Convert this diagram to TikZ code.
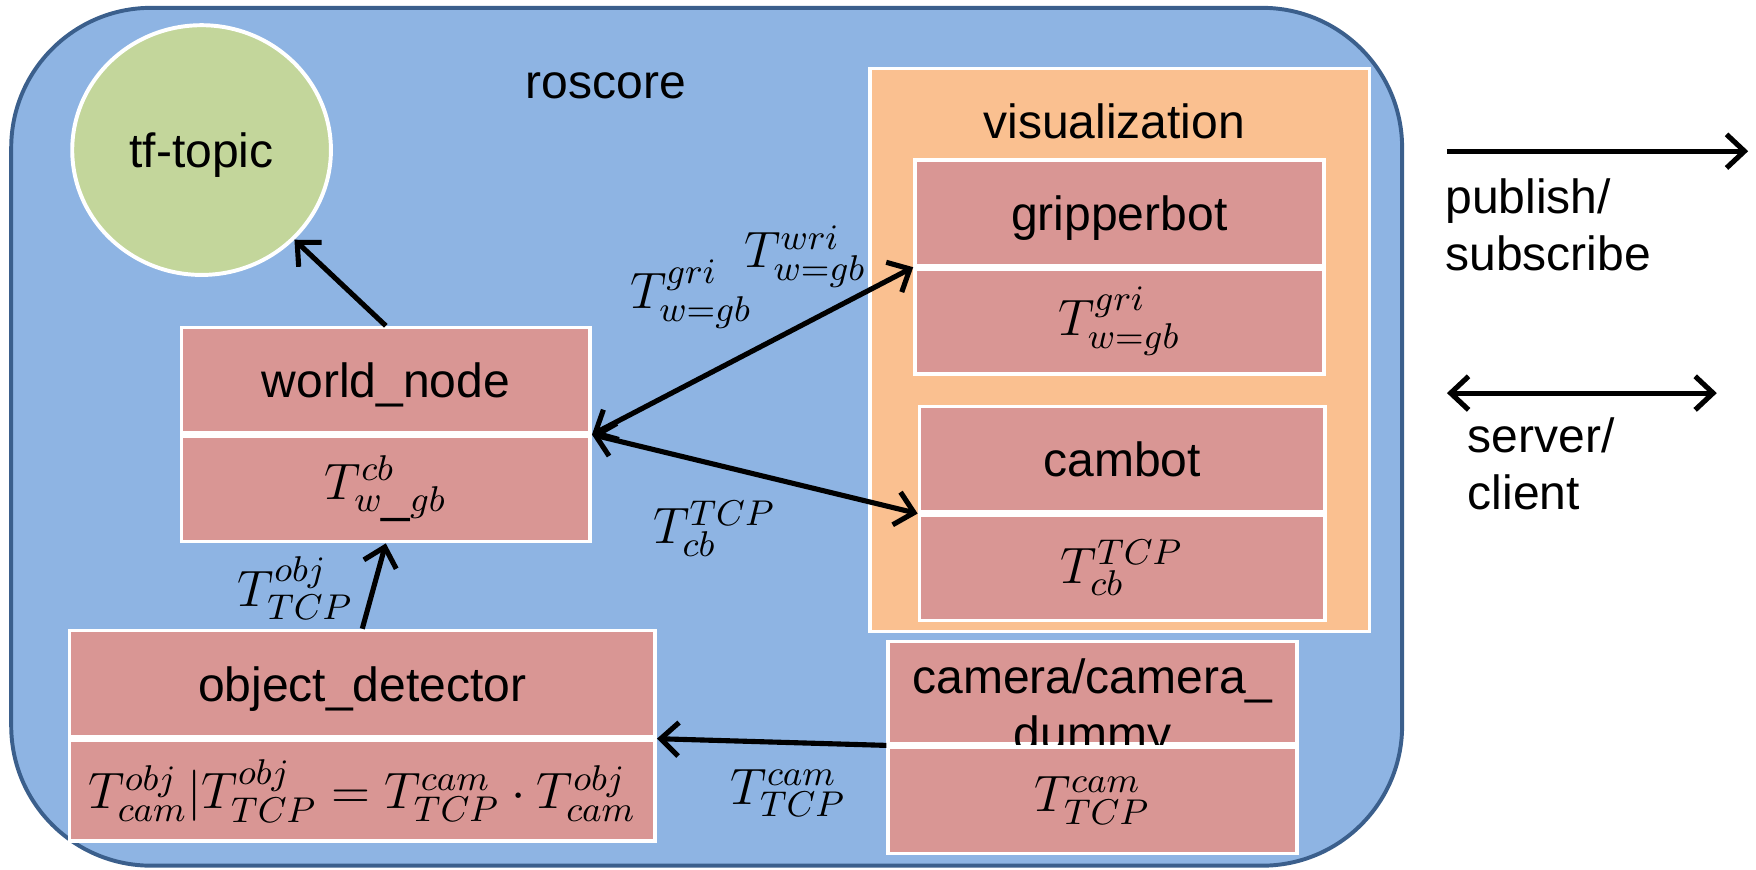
\documentclass[tikz,border=0pt]{standalone}
\usepackage{fix-cm}
\usepackage{fontspec}
\setmainfont{Liberation Sans}
\usetikzlibrary{arrows.meta}
\usetikzlibrary{positioning}
\usetikzlibrary{shapes.geometric}

\definecolor{roscoreblue}{RGB}{142,180,227}
\definecolor{roscoreline}{RGB}{59,95,140}
\definecolor{vizorange}{RGB}{250,192,144}
\definecolor{noderose}{RGB}{217,150,148}
\definecolor{topicgreen}{RGB}{195,214,155}

\begin{document}
\begin{tikzpicture}[
  every node/.style={font=\fontsize{12.2}{14.5}\selectfont},
  rosbox/.style={rectangle,draw=white,line width=0.9pt,fill=noderose,minimum width=3.65cm,minimum height=0.94cm,inner sep=0pt},
  rosname/.style={rosbox,text depth=0pt},
  rostf/.style={rosbox,font=\fontsize{13}{15.6}\selectfont},
  tflabel/.style={font=\fontsize{13}{15.6}\selectfont},
  pubarrow/.style={line width=1.3pt,-{Straight Barb[length=1.6mm,width=3mm]}},
  srvarrow/.style={line width=1.3pt,{Straight Barb[length=1.6mm,width=3mm]}-{Straight Barb[length=1.6mm,width=3mm]}}
]
\useasboundingbox (0,0) rectangle (15.68,7.76);
\draw[fill=roscoreblue,draw=roscoreline,line width=1pt,rounded corners=1.25cm] (0.10,0.03) rectangle (12.52,7.69);
\node[text depth=0pt] (roscore) at (5.41,7.00) {roscore};
\node[ellipse,draw=white,line width=1pt,fill=topicgreen,minimum width=2.31cm,minimum height=2.23cm,text depth=0pt] (topic) at (1.80,6.42) {tf-topic};

\node[rosname] (world) at (3.445,4.365) {world\_node};
\node[rostf,below=0pt of world] (worldT) {$T^{cb}_{w\_gb}$};

\node[rosname,minimum width=5.23cm,minimum height=0.95cm] (detector) at (3.235,1.655) {object\_detector};
\node[rostf,minimum width=5.23cm,minimum height=0.9cm,below=0pt of detector] (detectorT) {$T^{obj}_{cam}|T^{obj}_{TCP}=T^{cam}_{TCP}\cdot T^{obj}_{cam}$};

\node[rectangle,draw=white,line width=0.9pt,fill=vizorange,minimum width=4.46cm,minimum height=5.03cm] (viz) at (10.00,4.635) {};
\node[text depth=0pt] (vizname) at (9.95,6.68) {visualization};

\node[rosname] (grip) at (9.995,5.86) {gripperbot};
\node[rostf,below=0pt of grip] (gripT) {$T^{gri}_{w=gb}$};

\node[rosname,minimum width=3.62cm] (cam) at (10.02,3.66) {cambot};
\node[rostf,minimum width=3.62cm,below=0pt of cam] (camT) {$T^{TCP}_{cb}$};

\node[rosbox,minimum height=0.91cm] (camera) at (9.755,1.575) {\raisebox{-0.27cm}[0pt][0pt]{\begin{tabular}{@{}c@{}}camera/camera\_\\dummy\end{tabular}}};
\node[rostf,minimum height=0.95cm,below=0pt of camera] (cameraT) {$T^{cam}_{TCP}$};

\draw[pubarrow] (world.north) -- (topic.-44);
\draw[pubarrow] (detector.north) -- (worldT.south);
\draw[srvarrow] (world.south east) -- (grip.south west);
\draw[srvarrow] (world.south east) -- (cam.south west);
\draw[pubarrow] (camera.south west) -- (detector.south east);

\node[tflabel] (gripTf) at (6.17,5.13) {$T^{gri}_{w=gb}$};
\node[tflabel] (wriTf) at (7.19,5.47) {$T^{wri}_{w=gb}$};
\node[tflabel] (cbTf) at (6.38,3.04) {$T^{TCP}_{cb}$};
\node[tflabel] (objTf) at (2.64,2.51) {$T^{obj}_{TCP}$};
\node[tflabel] (camTf) at (7.04,0.68) {$T^{cam}_{TCP}$};

\coordinate (pubA) at (12.92,6.41);
\coordinate (pubB) at (15.61,6.41);
\draw[pubarrow] (pubA) -- (pubB);
\node[anchor=north west,align=left,inner sep=0pt] (pubname) at (12.90,6.17) {publish/\\subscribe};

\coordinate (srvA) at (12.92,4.25);
\coordinate (srvB) at (15.33,4.25);
\draw[srvarrow] (srvA) -- (srvB);
\node[anchor=north west,align=left,inner sep=0pt] (srvname) at (13.10,4.04) {server/\\client};

\end{tikzpicture}
\end{document}
